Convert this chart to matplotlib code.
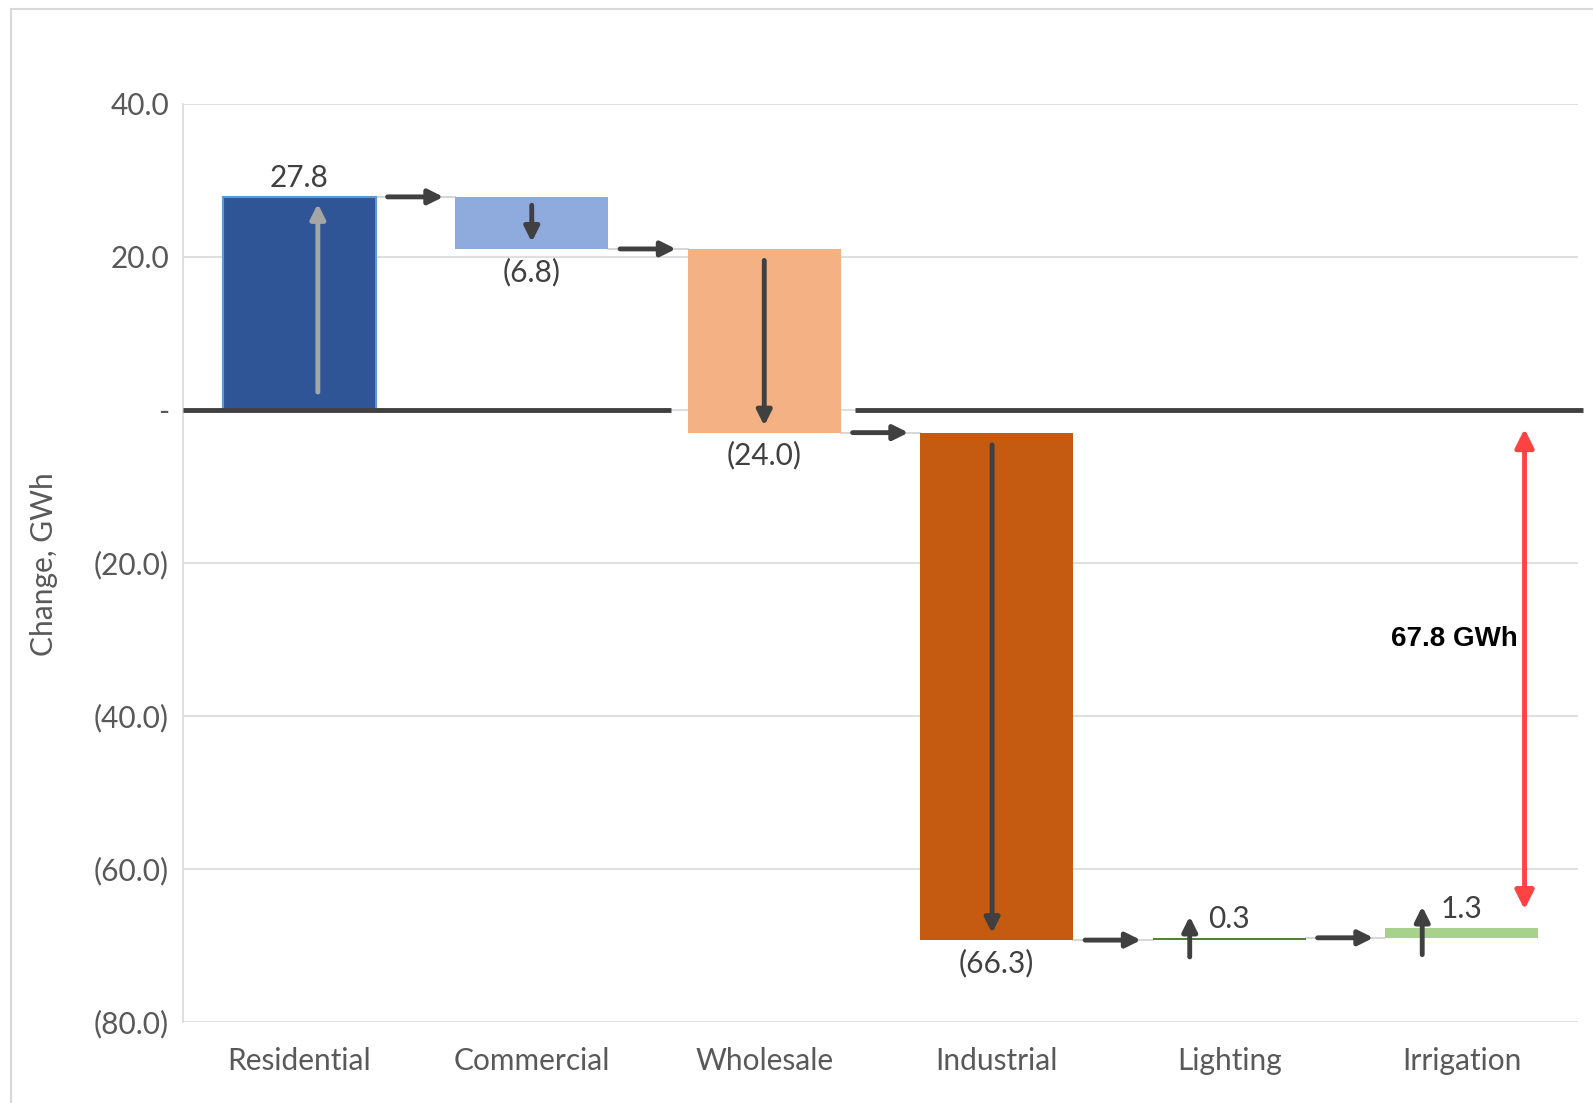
import matplotlib
matplotlib.use("Agg")
import matplotlib.pyplot as plt
from matplotlib.patches import Rectangle
from matplotlib.ticker import FuncFormatter, MultipleLocator
import numpy as np

# Year-over-year change in energy sales by customer class (GWh)
categories = ["Residential", "Commercial", "Wholesale", "Industrial", "Lighting", "Irrigation"]
changes = [27.8, -6.8, -24.0, -66.3, 0.3, 1.3]
bar_colors = ["#2F5597", "#8FAADC", "#F4B183", "#C55A11", "#548235", "#A9D18E"]
net_gap_label = 67.8  # GWh, shown by the red bracket

plt.rcParams["font.family"] = ["Lato", "DejaVu Sans"]
TEXT_GRAY = "#595959"
DARK = "#404040"
FS = 21.5

fig = plt.figure(figsize=(15.93, 11.03), dpi=100)
ax = fig.add_axes([183 / 1593, 1 - 1022 / 1103, (1578 - 183) / 1593, (1022 - 103.5) / 1103])

x = np.arange(len(categories))
ends = np.cumsum(changes)
starts = ends - np.array(changes)
bottoms = np.minimum(starts, ends)
heights = np.abs(changes)
width = 0.66

# waterfall bars
bars = ax.bar(x, heights, bottom=bottoms, width=width, color=bar_colors, zorder=3)
bars[0].set_edgecolor("#5B9BD5")
bars[0].set_linewidth(1.5)

# thin connectors between consecutive bars
for i in range(len(categories) - 1):
    ax.plot([x[i] + width / 2, x[i + 1] - width / 2], [ends[i], ends[i]],
            color="#D0D0D0", lw=1.2, zorder=2)
    ax.annotate("", xy=(x[i] + 0.62, ends[i]), xytext=(x[i] + 0.38, ends[i]),
                arrowprops=dict(arrowstyle="-|>", color=DARK, lw=3.5,
                                mutation_scale=22, shrinkA=0, shrinkB=0),
                zorder=4)

# direction arrows inside the large bars
inner_offsets = [0.08, 0.0, 0.0, -0.02]
inner_colors = ["#A6A6A6", DARK, DARK, DARK]
start_insets = [2.3, 1.1, 1.5, 1.6]
for i in range(4):
    sgn = np.sign(changes[i])
    y0 = starts[i] + sgn * start_insets[i]
    y1 = ends[i] - sgn * 0.9
    ax.annotate("", xy=(x[i] + inner_offsets[i], y1), xytext=(x[i] + inner_offsets[i], y0),
                arrowprops=dict(arrowstyle="-|>", color=inner_colors[i], lw=3.5,
                                mutation_scale=22, shrinkA=0, shrinkB=0),
                zorder=4)

# small up arrows next to the thin bars
for i in (4, 5):
    ax.annotate("", xy=(x[i] - 0.17, ends[i] + 2.8), xytext=(x[i] - 0.17, starts[i] - 2.2),
                arrowprops=dict(arrowstyle="-|>", color=DARK, lw=3.5,
                                mutation_scale=22, shrinkA=0, shrinkB=0),
                zorder=4)

# value labels
def fmt_val(v):
    return f"{v:.1f}" if v >= 0 else f"({abs(v):.1f})"

for i, v in enumerate(changes):
    if v >= 0:
        ax.text(x[i], ends[i] + 2.5, fmt_val(v), ha="center", va="center",
                fontsize=FS, color=DARK, zorder=5)
    else:
        ax.text(x[i], ends[i] - 3.0, fmt_val(v), ha="center", va="center",
                fontsize=FS, color=DARK, zorder=5)

# zero baseline, interrupted around the Wholesale bar
ax.plot([-0.5, x[2] - 0.40], [0, 0], color=DARK, lw=3.5, zorder=4, solid_capstyle="butt")
ax.plot([x[2] + 0.39, 5.52], [0, 0], color=DARK, lw=3.5, zorder=4,
        solid_capstyle="butt", clip_on=False)

# net change bracket
ax.annotate("", xy=(5.27, -2.5), xytext=(5.27, -net_gap_label + 2.5),
            arrowprops=dict(arrowstyle="<|-|>", color="#FF4343", lw=3.5,
                            mutation_scale=28, shrinkA=0, shrinkB=0),
            zorder=5)
ax.text(5.24, -net_gap_label / 2 + 4.0, f"{net_gap_label:.1f} GWh", ha="right", va="center",
        fontsize=20, fontweight="bold", color="black",
        family=["Liberation Sans", "DejaVu Sans"], zorder=5)

# axes styling
ax.set_xlim(-0.5, 5.5)
ax.set_ylim(-80, 40)
ax.yaxis.set_major_locator(MultipleLocator(20))

def yfmt(v, pos):
    if abs(v) < 1e-9:
        return "-"
    return f"{v:.1f}" if v > 0 else f"({abs(v):.1f})"

ax.yaxis.set_major_formatter(FuncFormatter(yfmt))
ax.set_xticks(x)
ax.set_xticklabels(categories)
ax.tick_params(axis="both", length=0, labelsize=FS, labelcolor=TEXT_GRAY)
ax.tick_params(axis="x", pad=18)
ax.tick_params(axis="y", pad=10)
ax.grid(axis="y", color="#D9D9D9", lw=1.2, zorder=0)
ax.set_axisbelow(True)
for s in ("top", "right", "bottom"):
    ax.spines[s].set_visible(False)
ax.spines["left"].set_color("#D9D9D9")
ax.spines["left"].set_linewidth(1.2)

fig.text(44 / 1593, 1 - 564 / 1103, "Change, GWh", rotation=90, ha="center", va="center",
         fontsize=21.5, color=TEXT_GRAY)

# outer chart frame
fig.add_artist(Rectangle((11 / 1593, -0.1), 1.2, 1.1 - 9 / 1103, transform=fig.transFigure,
                         fill=False, edgecolor="#D9D9D9", lw=1.5))

fig.savefig("out.png", dpi=100)
